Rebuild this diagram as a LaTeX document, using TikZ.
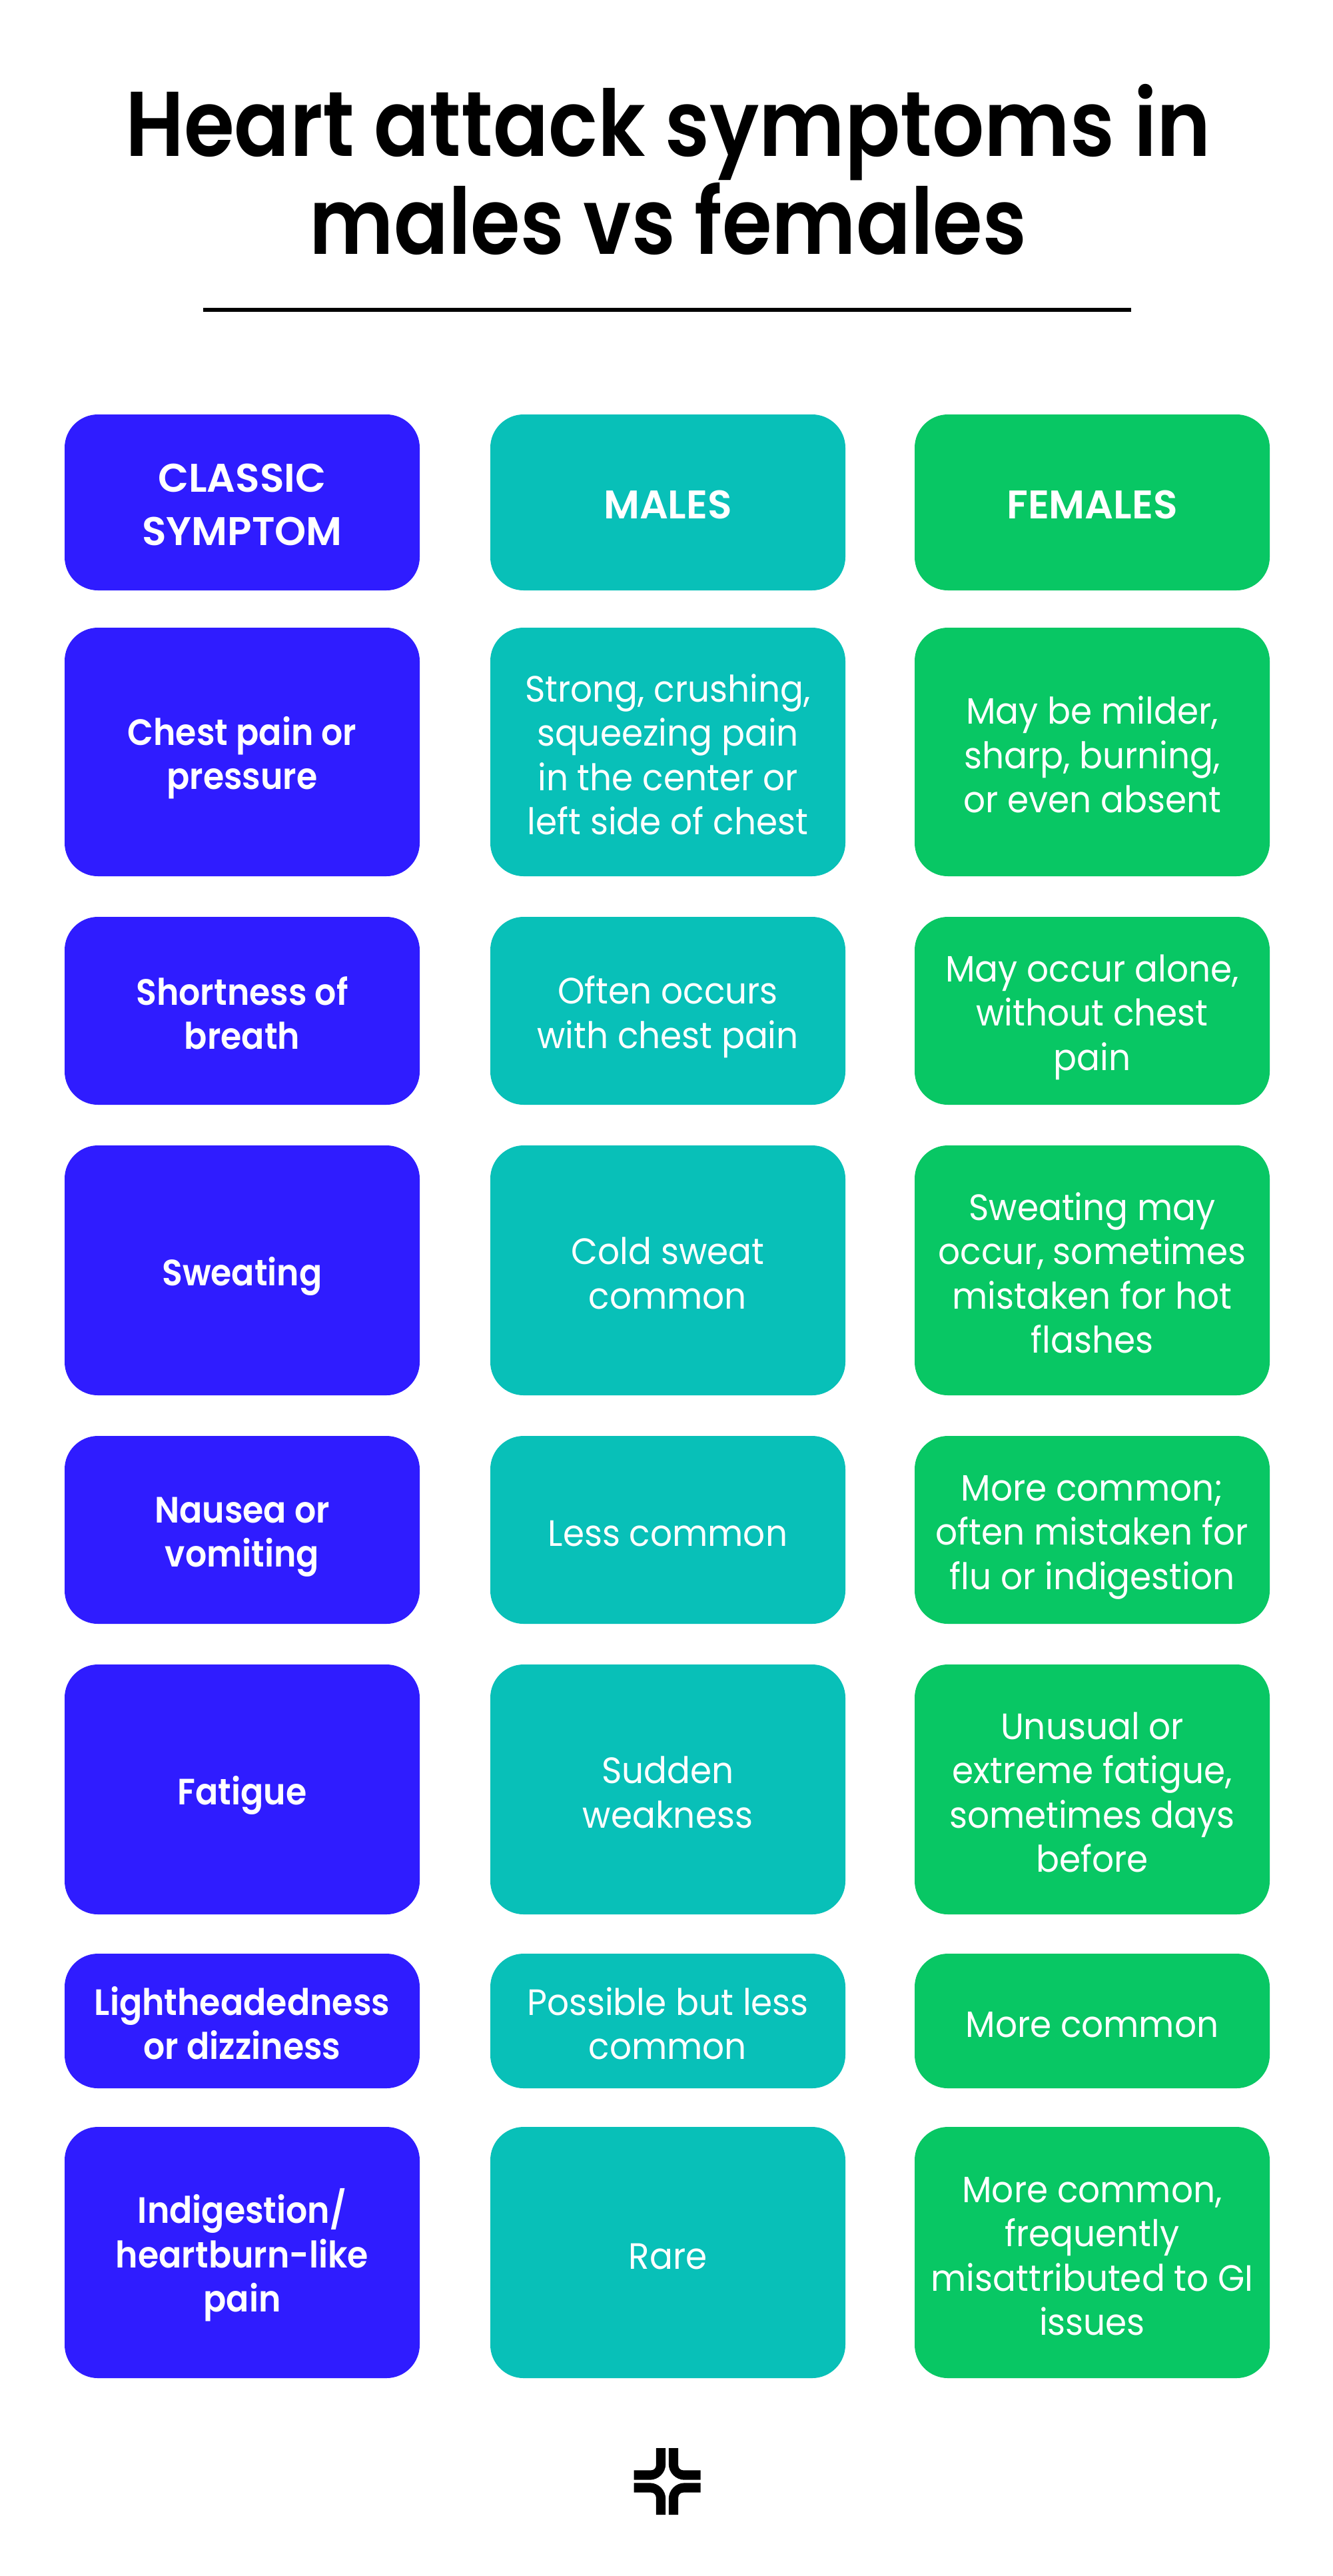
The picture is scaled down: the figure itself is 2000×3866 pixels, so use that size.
\documentclass[tikz,border=0pt]{standalone}
\usepackage{fontspec}
\setmainfont{Poppins}
\newfontfamily\titlef[FakeStretch=0.89]{Poppins SemiBold}
\newfontfamily\titleg[FakeStretch=0.875]{Poppins SemiBold}
\newfontfamily\headf[FakeStretch=1.0]{Poppins SemiBold}
\newfontfamily\labelf[FakeStretch=0.92]{Poppins SemiBold}
\newfontfamily\bodyf[FakeStretch=0.94]{Poppins}
\definecolor{cblue}{HTML}{2F1CFF}
\definecolor{cteal}{HTML}{08C0B8}
\definecolor{cgreen}{HTML}{08C764}
\newcommand{\topr}{\rule{0pt}{60pt}}
\newcommand{\botr}{\rule[-11pt]{0pt}{11pt}}
\tikzset{
  x=1pt,y=-1pt,
  cellbox/.style={rounded corners=50pt,inner sep=0pt,outer sep=0pt,text=white,align=center,anchor=north west},
  col1/.style={cellbox,fill=cblue,minimum width=533pt,font=\labelf\fontsize{55}{66.5}\selectfont},
  col2/.style={cellbox,fill=cteal,minimum width=533pt,font=\bodyf\fontsize{55}{66.5}\selectfont},
  col3/.style={cellbox,fill=cgreen,minimum width=533pt,font=\bodyf\fontsize{55}{66.5}\selectfont},
  hd/.style={font=\headf\fontsize{60}{80}\selectfont},
  title/.style={inner sep=0pt,align=center,text=black,font=\titlef\fontsize{138}{147}\selectfont},
  titlerule/.style={line width=6pt},
  logo/.style={fill=black},
}
\newcommand{\rowcells}[6]{%
  \node[col1,minimum height=#2 pt] (a#1) at (97,#3) {\topr #4\botr};
  \node[col2,minimum height=#2 pt] (b#1) at (736,#3) {\topr #5\botr};
  \node[col3,minimum height=#2 pt] (c#1) at (1373,#3) {\topr #6\botr};
}
\begin{document}
\begin{tikzpicture}
\useasboundingbox (0,0) rectangle (2000,3866);
\fill[white] (0,0) rectangle (2000,3866);
\node[title] (ttl) at (1003,269) {\rule{0pt}{100pt}Heart attack symptoms in\\\titleg males vs females\rule[-30pt]{0pt}{30pt}};
\coordinate (ruleL) at (305,465);
\coordinate (ruleR) at (1698,465);
\draw[titlerule] (ruleL) -- (ruleR);
\node[col1,hd,minimum height=264pt] (a1) at (97,622) {\topr CLASSIC\\SYMPTOM\botr};
\node[col2,hd,minimum height=264pt] (b1) at (736,622) {\topr MALES\botr};
\node[col3,hd,minimum height=264pt] (c1) at (1373,622) {\topr FEMALES\botr};
\rowcells{2}{373}{942}{Chest pain or\\pressure}{Strong, crushing,\\squeezing pain\\in the center or\\left side of chest}{May be milder,\\sharp, burning,\\or even absent}
\rowcells{3}{282}{1376}{Shortness of\\breath}{Often occurs\\with chest pain}{May occur alone,\\without chest\\pain}
\rowcells{4}{375}{1719}{Sweating}{Cold sweat\\common}{Sweating may\\occur, sometimes\\mistaken for hot\\flashes}
\rowcells{5}{282}{2155}{Nausea or\\vomiting}{Less common}{More common;\\often mistaken for\\flu or indigestion}
\rowcells{6}{375}{2498}{Fatigue}{Sudden\\weakness}{Unusual or\\extreme fatigue,\\sometimes days\\before}
\rowcells{7}{202}{2932}{Lightheadedness\\or dizziness}{Possible but less\\common}{More common}
\rowcells{8}{377}{3192}{Indigestion/\\heartburn-like\\pain}{Rare}{More common,\\frequently\\misattributed to GI\\issues}
% logo
\begin{scope}[shift={(1001.5,3724)}]
\foreach \sx/\sy in {1/1,-1/1,1/-1,-1/-1}{
\fill[logo,xscale=\sx,yscale=\sy] (2.3,50) -- (16.7,50) -- (16.7,24) .. controls (16.7,20) and (20,16.7) .. (24,16.7) -- (50,16.7) -- (50,2.3) -- (26,2.3) .. controls (13,2.3) and (2.3,13) .. (2.3,26) -- cycle;
}
\end{scope}
\end{tikzpicture}
\end{document}
